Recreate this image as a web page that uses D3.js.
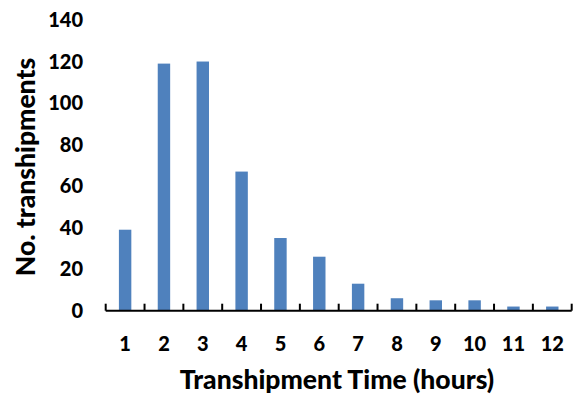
<!DOCTYPE html>
<html>
<head>
<meta charset="utf-8">
<script src="https://cdn.jsdelivr.net/npm/d3@7"></script>
<style>
  body { margin: 0; background: white; }
  text { font-family: Lato, "Open Sans", sans-serif; font-weight: bold; fill: black; }
</style>
</head>
<body>
<div id="vis"></div>
<script>
var width = 575;
var height = 402;

// data
var hours = ["1", "2", "3", "4", "5", "6", "7", "8", "9", "10", "11", "12"];
var counts = [39, 119, 120, 67, 35, 26, 13, 6, 5, 5, 2, 2];
var yTicks = [0, 20, 40, 60, 80, 100, 120, 140];

var plotLeft = 105.7, plotRight = 571.7, plotTop = 20, plotBottom = 310.7;

var svg = d3.select("#vis")
  .append("svg")
  .attr("width", width)
  .attr("height", height)
  .style("background-color", "white");

var xScale = d3.scaleBand()
  .domain(hours)
  .range([plotLeft, plotRight])
  .paddingInner(0.68)
  .paddingOuter(0.34);

var yScale = d3.scaleLinear()
  .domain([0, 140])
  .range([plotBottom, plotTop]);

// bars
svg.append("g")
  .selectAll("rect")
  .data(counts)
  .join("rect")
  .attr("x", (d, i) => xScale(hours[i]))
  .attr("y", d => yScale(d))
  .attr("width", xScale.bandwidth())
  .attr("height", d => yScale(0) - yScale(d))
  .attr("fill", "#4f81bd");

// x axis: line + ticks at category boundaries
var xAxis = svg.append("g");
xAxis.append("line")
  .attr("x1", plotLeft).attr("x2", plotRight)
  .attr("y1", plotBottom).attr("y2", plotBottom)
  .attr("stroke", "black")
  .attr("stroke-width", 2);

var step = (plotRight - plotLeft) / hours.length;
xAxis.selectAll(".tick")
  .data(d3.range(hours.length + 1))
  .join("line")
  .attr("class", "tick")
  .attr("x1", i => plotLeft + i * step)
  .attr("x2", i => plotLeft + i * step)
  .attr("y1", plotBottom)
  .attr("y2", plotBottom - 7)
  .attr("stroke", "black")
  .attr("stroke-width", 2);

xAxis.selectAll(".lbl")
  .data(hours)
  .join("text")
  .attr("class", "lbl")
  .attr("x", d => xScale(d) + xScale.bandwidth() / 2)
  .attr("y", 351)
  .attr("text-anchor", "middle")
  .style("font-size", "20px")
  .style("font-weight", 900)
  .text(d => d);

// y labels (no axis line)
svg.append("g")
  .selectAll("text")
  .data(yTicks)
  .join("text")
  .attr("x", 83)
  .attr("y", d => yScale(d) + 7)
  .attr("text-anchor", "end")
  .style("font-size", "20px")
  .style("font-weight", 900)
  .text(d => d);

// titles
svg.append("text")
  .attr("x", 337)
  .attr("y", 389)
  .attr("text-anchor", "middle")
  .style("font-size", "26.5px")
  .style("font-weight", 900)
  .text("Transhipment Time (hours)");

svg.append("text")
  .attr("transform", "translate(35,167) rotate(-90)")
  .attr("text-anchor", "middle")
  .style("font-size", "26.5px")
  .style("font-weight", 900)
  .text("No. transhipments");
</script>
</body>
</html>
